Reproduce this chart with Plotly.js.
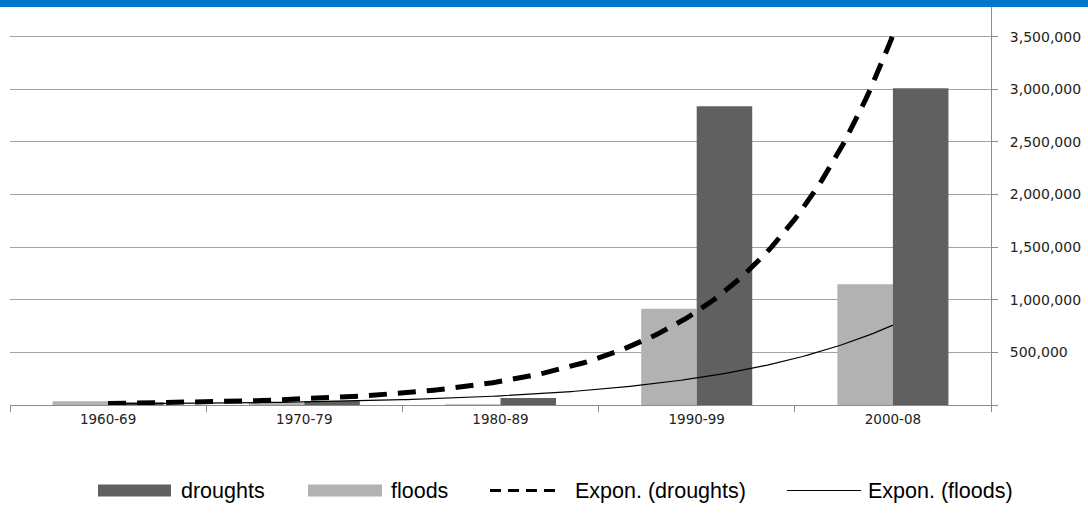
<!DOCTYPE html>
<html>
<head>
<meta charset="utf-8">
<script src="https://cdn.plot.ly/plotly-3.0.1.min.js"></script>
<style>html,body{margin:0;padding:0;background:#fff;}#chart{width:1088px;height:515px;}</style>
</head>
<body>
<div id="chart"></div>
<script>
// ---- data ----
const categories = ['1960-69', '1970-79', '1980-89', '1990-99', '2000-08'];
const droughts = [27000, 37000, 66000, 2840000, 3010000];
const floods = [35000, 19000, 7000, 915000, 1147000];
const seriesNames = ['droughts', 'floods'];
const trendNames = ['Expon. (droughts)', 'Expon. (floods)'];
const yTickVals = [0, 500000, 1000000, 1500000, 2000000, 2500000, 3000000, 3500000];
const yTickText = ['', '500,000', '1,000,000', '1,500,000', '2,000,000', '2,500,000', '3,000,000', '3,500,000'];

// ---- exponential least-squares fit (like a spreadsheet "Expon." trendline) ----
function expFit(ys) {
  const n = ys.length;
  const xs = ys.map((_, i) => i);
  const ls = ys.map(v => Math.log(v));
  const mx = xs.reduce((a, b) => a + b, 0) / n;
  const ml = ls.reduce((a, b) => a + b, 0) / n;
  let sxy = 0, sxx = 0;
  for (let i = 0; i < n; i++) { sxy += (xs[i] - mx) * (ls[i] - ml); sxx += (xs[i] - mx) * (xs[i] - mx); }
  const b = sxy / sxx;
  const a = ml - b * mx;
  return x => Math.exp(a + b * x);
}
function curve(ys) {
  const f = expFit(ys);
  const xs = [], vs = [];
  for (let k = 0; k <= 200; k++) { const x = (ys.length - 1) * k / 200; xs.push(x); vs.push(f(x)); }
  return {x: xs, y: vs};
}
const idx = categories.map((_, i) => i);
const dC = curve(droughts), fC = curve(floods);

const traces = [
  {type: 'bar', x: idx, y: floods, name: seriesNames[1], marker: {color: '#b2b2b2', line: {width: 0}}, showlegend: false, hoverinfo: 'skip'},
  {type: 'bar', x: idx, y: droughts, name: seriesNames[0], marker: {color: '#606060', line: {width: 0}}, showlegend: false, hoverinfo: 'skip'},
  {type: 'scatter', mode: 'lines', x: fC.x, y: fC.y, name: trendNames[1], line: {color: '#000', width: 1.2}, showlegend: false, hoverinfo: 'skip'},
  {type: 'scatter', mode: 'lines', x: dC.x, y: dC.y, name: trendNames[0], line: {color: '#000', width: 5, dash: '18px,11px'}, showlegend: false, hoverinfo: 'skip'}
];

// ---- layout ----
const plotH = 515 - 7 - 110, plotW = 1088 - 10 - 97;
const px = v => (v - 10) / plotW;           // page x -> paper x
const py = v => (405 - v) / plotH;          // page y -> paper y
const legY = py(490.5);
const legFont = {family: 'Liberation Sans, Arial, sans-serif', size: 21.5, color: '#000'};

const shapes = [
  {type: 'rect', xref: 'paper', yref: 'paper', x0: px(0), x1: px(1088), y0: py(7), y1: py(-1), fillcolor: '#0077cc', line: {width: 0}, layer: 'above'},
  {type: 'rect', xref: 'paper', yref: 'paper', x0: px(98), x1: px(171), y0: legY - 6 / plotH, y1: legY + 6 / plotH, fillcolor: '#606060', line: {width: 0}},
  {type: 'rect', xref: 'paper', yref: 'paper', x0: px(308), x1: px(382), y0: legY - 6 / plotH, y1: legY + 6 / plotH, fillcolor: '#b2b2b2', line: {width: 0}},
  {type: 'line', xref: 'paper', yref: 'paper', x0: px(490), x1: px(558), y0: legY, y1: legY, line: {color: '#000', width: 3, dash: '11px,7px'}},
  {type: 'line', xref: 'paper', yref: 'paper', x0: px(787), x1: px(861), y0: legY, y1: legY, line: {color: '#000', width: 1.2}}
];
const legTexts = [[179, seriesNames[0]], [389, seriesNames[1]], [573, trendNames[0]], [866, trendNames[1]]];
const annotations = legTexts.map(([x, t]) => ({
  xref: 'paper', yref: 'paper', x: px(x), y: legY, xanchor: 'left', yanchor: 'middle',
  text: t, showarrow: false, font: legFont
}));

const layout = {
  width: 1088, height: 515,
  margin: {l: 10, r: 97, t: 7, b: 110, pad: 0},
  paper_bgcolor: '#fff', plot_bgcolor: '#fff',
  barmode: 'group', bargap: 0.434, bargroupgap: 0,
  showlegend: false,
  xaxis: {
    range: [-0.5, 4.5], tickmode: 'array', tickvals: idx, ticktext: categories,
    ticks: '', showgrid: false, zeroline: false,
    showline: true, linecolor: '#8c8c8c', linewidth: 1,
    tickfont: {family: 'DejaVu Sans, Verdana, sans-serif', size: 13.5, color: '#222'},
    ticklabelstandoff: 2,
    minor: {tickmode: 'array', tickvals: [-0.5, 0.5, 1.5, 2.5, 3.5, 4.5], ticks: 'outside', ticklen: 6, tickcolor: '#8c8c8c', tickwidth: 1, showgrid: false},
    fixedrange: true
  },
  yaxis: {
    side: 'right', range: [0, 3783000], tickmode: 'array', tickvals: yTickVals, ticktext: yTickText,
    ticks: 'outside', ticklen: 6, tickcolor: '#8c8c8c', tickwidth: 1,
    showline: true, linecolor: '#8c8c8c', linewidth: 1,
    showgrid: true, gridcolor: '#a3a3a3', gridwidth: 1, zeroline: false,
    tickfont: {family: 'DejaVu Sans, Verdana, sans-serif', size: 14, color: '#222'},
    ticklabelstandoff: 9,
    fixedrange: true
  },
  shapes: shapes,
  annotations: annotations
};

Plotly.newPlot('chart', traces, layout, {displayModeBar: false, staticPlot: true});
</script>
</body>
</html>
